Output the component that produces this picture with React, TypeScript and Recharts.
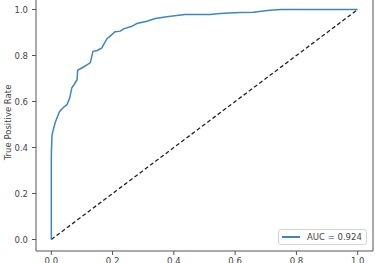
import React from "react";
import { LineChart, Line, XAxis, YAxis, ReferenceArea, Label } from "recharts";

// ROC curve points
const fpr = [
  0, 0, 0.002, 0.005, 0.013, 0.027, 0.04, 0.051, 0.06, 0.067, 0.075, 0.084,
  0.086, 0.105, 0.127, 0.136, 0.15, 0.165, 0.181, 0.192, 0.208, 0.225, 0.236,
  0.263, 0.279, 0.312, 0.339, 0.377, 0.436, 0.518, 0.55, 0.616, 0.659, 0.713,
  0.75, 1.0,
];
const tpr = [
  0, 0.36, 0.45, 0.47, 0.51, 0.557, 0.575, 0.586, 0.615, 0.66, 0.675, 0.695,
  0.736, 0.75, 0.768, 0.818, 0.822, 0.833, 0.872, 0.884, 0.903, 0.906, 0.916,
  0.927, 0.939, 0.949, 0.961, 0.968, 0.978, 0.978, 0.983, 0.987, 0.988, 0.997,
  1.0, 1.0,
];

// chance diagonal
const chanceFpr = [0, 1];
const chanceTpr = [0, 1];

const ticks = [0, 0.2, 0.4, 0.6, 0.8, 1.0];
const aucLabel = "AUC = 0.924";
const yLabel = "True Positive Rate";

const rocData = fpr.map((x, i) => ({ x, y: tpr[i] }));
const chanceData = chanceFpr.map((x, i) => ({ x, y: chanceTpr[i] }));

const FONT = "'DejaVu Sans', sans-serif";
const TEXT = "#444";
const AXIS = "#555";
const BLUE = "#3f86c0";

export default function App() {
  return (
    <div style={{ position: "absolute", left: 0, top: -2, width: 375, height: 265, fontFamily: FONT }}>
      <LineChart width={375} height={265} margin={{ top: 0, right: 2, left: 0, bottom: 0 }}>
        <XAxis
          dataKey="x"
          type="number"
          domain={[-0.05, 1.05]}
          ticks={ticks}
          allowDataOverflow
          axisLine={false}
          tickLine={{ stroke: AXIS }}
          tickSize={4}
          tickMargin={3}
          height={12}
          tick={{ fill: TEXT, fontSize: 8.5, fontFamily: FONT }}
          tickFormatter={(v: number) => v.toFixed(1)}
        />
        <YAxis
          dataKey="y"
          type="number"
          domain={[-0.05, 1.05]}
          ticks={ticks}
          allowDataOverflow
          axisLine={false}
          tickLine={{ stroke: AXIS }}
          tickSize={4}
          tickMargin={4}
          width={36}
          tick={{ fill: TEXT, fontSize: 8.5, fontFamily: FONT }}
          tickFormatter={(v: number) => v.toFixed(1)}
        >
          <Label
            content={() => (
              <text
                x={8}
                y={124.5}
                transform="rotate(-90 8 124.5)"
                textAnchor="middle"
                dominantBaseline="central"
                fill={TEXT}
                fontSize={8.5}
                fontFamily={FONT}
              >
                {yLabel}
              </text>
            )}
          />
        </YAxis>
        <ReferenceArea
          x1={-0.05}
          x2={1.05}
          y1={-0.05}
          y2={1.05}
          fill="none"
          stroke={AXIS}
          strokeWidth={1}
          ifOverflow="visible"
        />
        <Line
          data={chanceData}
          dataKey="y"
          type="linear"
          stroke="#222"
          strokeWidth={1.3}
          strokeDasharray="4 2.5"
          dot={false}
          isAnimationActive={false}
        />
        <Line
          data={rocData}
          dataKey="y"
          type="linear"
          stroke={BLUE}
          strokeWidth={1.5}
          dot={false}
          isAnimationActive={false}
        />
      </LineChart>
      <div
        style={{
          position: "absolute",
          left: 278,
          top: 231,
          width: 89,
          height: 16,
          border: "1px solid #d4d4d4",
          borderRadius: 3,
          background: "#fff",
          display: "flex",
          alignItems: "center",
          boxSizing: "border-box",
          fontSize: 8.5,
          color: TEXT,
        }}
      >
        <span style={{ display: "inline-block", width: 18, height: 2, background: BLUE, marginLeft: 3, marginRight: 7 }} />
        <span>{aucLabel}</span>
      </div>
    </div>
  );
}
